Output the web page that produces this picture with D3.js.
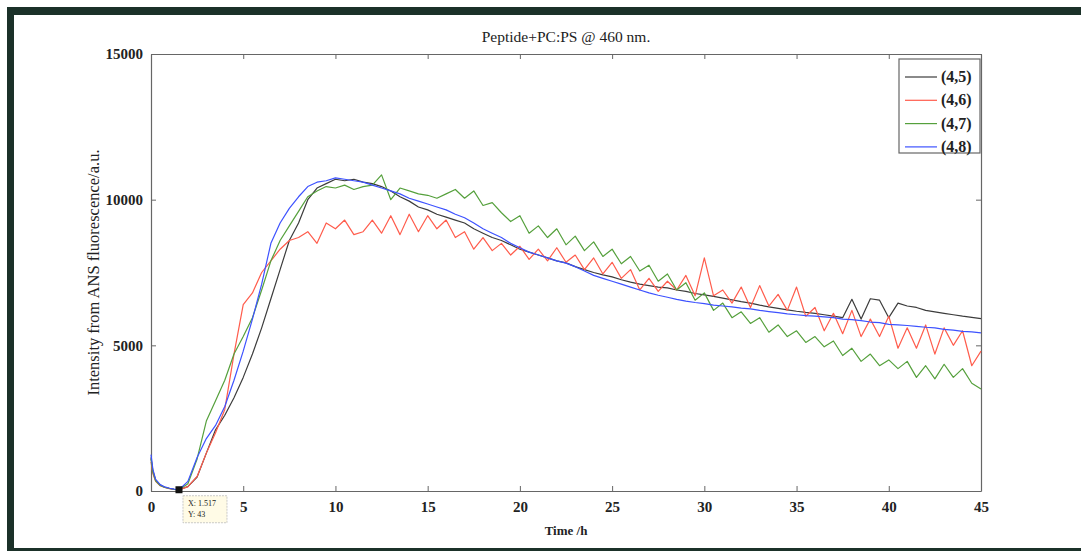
<!DOCTYPE html>
<html>
<head>
<meta charset="utf-8">
<script src="https://cdn.jsdelivr.net/npm/d3@7"></script>
<style>
  html, body { margin: 0; padding: 0; background: #fff; }
  svg { display: block; }
  text { font-family: "Liberation Serif", "Times New Roman", serif; fill: #222; }
</style>
</head>
<body>
<svg id="chart" width="1081" height="551"></svg>
<script>
// ---------------- DATA ----------------
const title = "Peptide+PC:PS @ 460 nm.";
const xLabel = "Time /h";
const yLabel = "Intensity from ANS fluorescence/a.u.";
const xTicks = [0, 5, 10, 15, 20, 25, 30, 35, 40, 45];
const yTicks = [0, 5000, 10000, 15000];
const seriesNames = ["(4,5)", "(4,6)", "(4,7)", "(4,8)"];
const seriesColors = ["#3c3c3c", "#ff5c4c", "#55a03c", "#3d52ff"];

// sampling times (h): early decay, then every 0.5 h from 2 to 45
const timesEarly = [0, 0.1, 0.25, 0.5, 0.75, 1, 1.25, 1.517];
const timesMain = d3.range(87).map(i => 2 + i * 0.5);
const times = timesEarly.concat(timesMain);

const s45 = [1150, 700, 380, 200, 130, 90, 60, 43,
  150, 480, 1300, 2100, 2600, 3200, 3900, 4700, 5600, 6600,
  7600, 8600, 9200, 10000, 10400, 10550, 10700, 10650, 10700, 10600,
  10550, 10450, 10300, 10100, 9950, 9750, 9650, 9500, 9400, 9300,
  9200, 9000, 8850, 8700, 8600, 8450, 8300, 8200, 8100, 8000,
  7900, 7830, 7700, 7600, 7500, 7420, 7350, 7250, 7170, 7100,
  7050, 7000, 6970, 6900, 6850, 6780, 6730, 6680, 6620, 6560,
  6500, 6450, 6380, 6320, 6270, 6220, 6170, 6130, 6100, 6050,
  6000, 5950, 6580, 5900, 6600, 6550, 5950, 6450, 6350, 6300,
  6200, 6150, 6100, 6050, 6000, 5960, 5920];

const s46 = [1000, 600, 330, 180, 120, 80, 55, 40,
  150, 500, 1300, 2000, 2800, 4700, 6400, 6800, 7500, 7900,
  8300, 8600, 8700, 8900, 8500, 9200, 9000, 9300, 8800, 8900,
  9300, 8850, 9450, 8800, 9500, 8900, 9450, 9000, 9300, 8700,
  8900, 8300, 8700, 8250, 8500, 8100, 8400, 7950, 8300, 7900,
  8350, 7850, 8100, 7600, 8000, 7450, 7850, 7300, 7600, 6900,
  7300, 6850, 7200, 6900, 7400, 6700, 8000, 6700, 6900, 6450,
  7000, 6300, 7050, 6350, 6750, 6200, 7000, 6000, 6300, 5500,
  6100, 5400, 6200, 5300, 5900, 5300, 6000, 4900, 5600, 4900,
  5700, 4700, 5600, 5000, 5500, 4300, 4800];

const s47 = [1100, 650, 350, 190, 120, 85, 55, 40,
  250, 1100, 2400, 3100, 3800, 4700, 5300, 5950, 6900, 7900,
  8600, 9100, 9600, 10100, 10300, 10450, 10400, 10500, 10350, 10450,
  10500, 10850, 10000, 10400, 10300, 10200, 10150, 10050, 10200, 10350,
  10050, 10300, 9800, 9900, 9550, 9250, 9450, 8850, 9100, 8700,
  9000, 8450, 8750, 8250, 8550, 8050, 8300, 7800, 8050, 7550,
  7750, 7200, 7450, 6900, 7150, 6550, 6800, 6200, 6450, 5950,
  6150, 5750, 5950, 5450, 5700, 5300, 5500, 5100, 5300, 4950,
  5150, 4650, 4900, 4450, 4700, 4300, 4500, 4200, 4450, 3900,
  4300, 3850, 4350, 3900, 4200, 3700, 3500];

const s48 = [1250, 750, 400, 220, 140, 95, 65, 45,
  330, 1150, 1800, 2250, 2900, 3800, 4800, 5900, 7100, 8500,
  9200, 9700, 10100, 10450, 10600, 10650, 10750, 10700, 10650, 10600,
  10500, 10400, 10300, 10200, 10050, 9950, 9850, 9750, 9650, 9500,
  9380, 9200, 9000, 8850, 8700, 8500, 8350, 8200, 8100, 8000,
  7900, 7820, 7700, 7550, 7400, 7300, 7200, 7100, 7000, 6900,
  6800, 6720, 6650, 6580, 6520, 6470, 6430, 6380, 6350, 6320,
  6280, 6250, 6200, 6160, 6120, 6080, 6050, 6020, 6000, 5980,
  5950, 5900, 5880, 5850, 5800, 5780, 5720, 5700, 5680, 5650,
  5620, 5600, 5550, 5520, 5480, 5460, 5430];

const seriesValues = [s45, s46, s47, s48];
const dataTip = { x: 1.517, y: 43 };

// ---------------- DRAW ----------------
const svg = d3.select("#chart");
const W = 1081, H = 551;
const plot = { left: 151, right: 981, top: 54, bottom: 491 };

// dark scan frame
const frameColor = "#1b3129";
svg.append("rect").attr("x", 7).attr("y", 7).attr("width", W - 7).attr("height", 8).attr("fill", frameColor);
svg.append("rect").attr("x", 7).attr("y", 7).attr("width", 7).attr("height", H - 7).attr("fill", frameColor);
svg.append("rect").attr("x", 7).attr("y", 548).attr("width", W - 7).attr("height", 3).attr("fill", frameColor);

const x = d3.scaleLinear().domain([0, 45]).range([plot.left, plot.right]);
const y = d3.scaleLinear().domain([0, 15000]).range([plot.bottom, plot.top]);

const axisColor = "#666";
const tickFont = 15;

// axes (ticks inward on all sides)
const gx = svg.append("g").attr("transform", `translate(0,${plot.bottom})`)
  .call(d3.axisBottom(x).tickValues(xTicks).tickSizeInner(-5).tickSizeOuter(0).tickPadding(10).tickFormat(d3.format("d")));
const gxt = svg.append("g").attr("transform", `translate(0,${plot.top})`)
  .call(d3.axisTop(x).tickValues(xTicks).tickSizeInner(-5).tickSizeOuter(0).tickFormat(""));
const gy = svg.append("g").attr("transform", `translate(${plot.left},0)`)
  .call(d3.axisLeft(y).tickValues(yTicks).tickSizeInner(-5).tickSizeOuter(0).tickPadding(8).tickFormat(d3.format("d")));
const gyr = svg.append("g").attr("transform", `translate(${plot.right},0)`)
  .call(d3.axisRight(y).tickValues(yTicks).tickSizeInner(-5).tickSizeOuter(0).tickFormat(""));

[gx, gxt, gy, gyr].forEach(g => {
  g.select(".domain").attr("stroke", axisColor).attr("stroke-width", 1.2);
  g.selectAll(".tick line").attr("stroke", axisColor).attr("stroke-width", 1);
  g.selectAll(".tick text").attr("font-size", tickFont).attr("font-weight", "bold")
    .attr("fill", "#333").attr("font-family", "Liberation Serif, Times New Roman, serif");
});

// series lines
const line = d3.line().x((d, i) => x(times[i])).y(d => y(d));
seriesValues.forEach((vals, k) => {
  svg.append("path").datum(vals)
    .attr("fill", "none").attr("stroke", seriesColors[k])
    .attr("stroke-width", 1.2).attr("stroke-linejoin", "round")
    .attr("d", line);
});

// title and labels
svg.append("text").attr("x", (plot.left + plot.right) / 2).attr("y", 42)
  .attr("text-anchor", "middle").attr("font-size", 15.5).text(title);
svg.append("text").attr("x", (plot.left + plot.right) / 2).attr("y", 535)
  .attr("text-anchor", "middle").attr("font-size", 13).attr("font-weight", "bold").text(xLabel);
svg.append("text")
  .attr("transform", `translate(99,${(plot.top + plot.bottom) / 2}) rotate(-90)`)
  .attr("text-anchor", "middle").attr("font-size", 16.5).text(yLabel);

// legend
const lg = svg.append("g");
lg.append("rect").attr("x", 899).attr("y", 59).attr("width", 81).attr("height", 94)
  .attr("fill", "#fff").attr("stroke", "#666").attr("stroke-width", 1.2);
seriesNames.forEach((name, k) => {
  const yy = 77 + k * 23.3;
  lg.append("line").attr("x1", 905).attr("x2", 937).attr("y1", yy).attr("y2", yy)
    .attr("stroke", seriesColors[k]).attr("stroke-width", 1.2);
  lg.append("text").attr("x", 941).attr("y", yy + 5).attr("font-size", 16)
    .attr("font-weight", "bold").attr("fill", "#333").text(name);
});

// data tip
const tx = x(dataTip.x), ty = y(dataTip.y);
svg.append("rect").attr("x", tx - 3.5).attr("y", ty - 3.5).attr("width", 7).attr("height", 7).attr("fill", "#111");
const tip = svg.append("g");
tip.append("rect").attr("x", tx + 4).attr("y", ty + 6).attr("width", 44).attr("height", 27)
  .attr("fill", "#fffbe6").attr("stroke", "#bbb").attr("stroke-dasharray", "2,1").attr("stroke-width", 0.8);
tip.append("text").attr("x", tx + 9).attr("y", ty + 16).attr("font-size", 8)
  .attr("font-family", "DejaVu Sans, sans-serif").attr("fill", "#555").text("X: " + dataTip.x);
tip.append("text").attr("x", tx + 9).attr("y", ty + 27).attr("font-size", 8)
  .attr("font-family", "DejaVu Sans, sans-serif").attr("fill", "#555").text("Y: " + dataTip.y);
</script>
</body>
</html>
